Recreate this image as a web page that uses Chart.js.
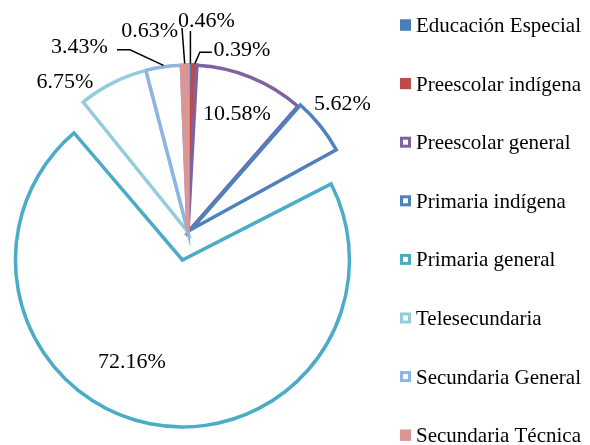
<!DOCTYPE html>
<html lang="es">
<head>
<meta charset="utf-8">
<title>Alumnos por nivel educativo</title>
<script src="https://cdn.jsdelivr.net/npm/chart.js@4.4.1/dist/chart.umd.min.js"></script>
<style>
  html, body { margin: 0; padding: 0; background: #fff; }
  #contenedor { position: relative; width: 590px; height: 445px; }
</style>
</head>
<body>
<div id="contenedor"><canvas id="grafica"></canvas></div>
<script>
// --- Datos ---
const niveles = [
    'Educación Especial',
    'Preescolar indígena',
    'Preescolar general',
    'Primaria indígena',
    'Primaria general',
    'Telesecundaria',
    'Secundaria General',
    'Secundaria Técnica'
];
const porcentajes = [0.46, 0.39, 10.58, 5.62, 72.16, 6.75, 3.43, 0.63];

// --- Estilo ---
const coloresBorde = ['#4A7EBB', '#BE4B48', '#7F63A1', '#4F81BD', '#4BACC6', '#93CDDD', '#8EB4E3', '#D99694'];
const coloresRelleno = ['#4A7EBB', '#BE4B48', '#FFFFFF', '#FFFFFF', '#FFFFFF', '#FFFFFF', '#FFFFFF', '#D99694'];
// Chart.js traslada el sector offset/4 px
const separacion = [0, 0, 0, 16, 114, 0, 0, 0];

// Posición de cada etiqueta respecto al punto medio del borde exterior del sector
const posEtiquetas = [
    { dx: 16, dy: -44, guia: [[0, -1.5], [0, -34]] },
    { dx: 47, dy: -15, guia: [[0, -1.5], [5, -13], [17, -13]] },
    { dx: -14, dy: 37 },
    { dx: 21, dy: -21 },
    { dx: -18, dy: -62 },
    { dx: -48, dy: -1 },
    { dx: -84, dy: -20, guia: [[0, -1.5], [-33.5, -17], [-46.5, -17]] },
    { dx: -35, dy: -34, guia: [[0, -1.5], [-2.7, -37]] }
];

const leyenda = { x: 400, top: 25, paso: 58.6, lado: 11 };

// Compensa el radio extra que Chart.js añade a los sectores separados
const separacionPlugin = {
    id: 'separacion',
    afterDatasetUpdate(chart, args) {
        args.meta.data.forEach(arco => {
            const despl = ((arco.options && arco.options.offset) || 0) / 4;
            arco.outerRadius -= despl;
        });
    }
};

const etiquetasPlugin = {
    id: 'etiquetas',
    afterDatasetsDraw(chart) {
        const ctx = chart.ctx;
        const meta = chart.getDatasetMeta(0);
        const valores = chart.data.datasets[0].data;
        ctx.save();
        ctx.font = '22px "Liberation Serif", "Times New Roman", serif';
        ctx.fillStyle = '#000';
        ctx.strokeStyle = '#000';
        ctx.lineWidth = 1.5;
        ctx.textAlign = 'center';
        ctx.textBaseline = 'middle';
        meta.data.forEach((arco, i) => {
            const { x, y, startAngle, endAngle, outerRadius } =
                arco.getProps(['x', 'y', 'startAngle', 'endAngle', 'outerRadius'], true);
            const despl = ((arco.options && arco.options.offset) || 0) / 4;
            const medio = (startAngle + endAngle) / 2;
            const r = outerRadius + 2 * despl;
            const ax = x + Math.cos(medio) * r;
            const ay = y + Math.sin(medio) * r;
            const pos = posEtiquetas[i];
            if (pos.guia) {
                ctx.beginPath();
                pos.guia.forEach(([px, py], k) => {
                    if (k === 0) ctx.moveTo(ax + px, ay + py);
                    else ctx.lineTo(ax + px, ay + py);
                });
                ctx.stroke();
            }
            ctx.fillText(valores[i].toFixed(2) + '%', ax + pos.dx, ay + pos.dy);
        });
        ctx.restore();
    }
};

const leyendaPlugin = {
    id: 'leyendaLateral',
    afterDraw(chart) {
        const ctx = chart.ctx;
        const ds = chart.data.datasets[0];
        const lado = leyenda.lado;
        ctx.save();
        ctx.font = '21px "Liberation Serif", "Times New Roman", serif';
        ctx.textAlign = 'left';
        ctx.textBaseline = 'middle';
        chart.data.labels.forEach((nombre, i) => {
            const cy = leyenda.top + i * leyenda.paso;
            const bx = leyenda.x;
            ctx.fillStyle = ds.backgroundColor[i];
            ctx.fillRect(bx, cy - lado / 2, lado, lado);
            ctx.lineWidth = 3;
            ctx.strokeStyle = ds.borderColor[i];
            ctx.strokeRect(bx + 1.5, cy - lado / 2 + 1.5, lado - 3, lado - 3);
            ctx.fillStyle = '#000';
            ctx.fillText(nombre, bx + lado + 5, cy + 1.5);
        });
        ctx.restore();
    }
};

const ctx = document.getElementById('grafica').getContext('2d');
new Chart(ctx, {
    type: 'pie',
    data: {
        labels: niveles,
        datasets: [{
            data: porcentajes,
            backgroundColor: coloresRelleno,
            borderColor: coloresBorde,
            borderWidth: 3.5,
            borderJoinStyle: 'miter',
            offset: separacion,
            clip: false
        }]
    },
    options: {
        responsive: true,
        maintainAspectRatio: false,
        animation: false,
        events: [],
        radius: 167,
        layout: { padding: { left: 0, right: 214, top: 19, bottom: 0 } },
        plugins: {
            legend: { display: false },
            tooltip: { enabled: false }
        }
    },
    plugins: [separacionPlugin, etiquetasPlugin, leyendaPlugin]
});
</script>
</body>
</html>
